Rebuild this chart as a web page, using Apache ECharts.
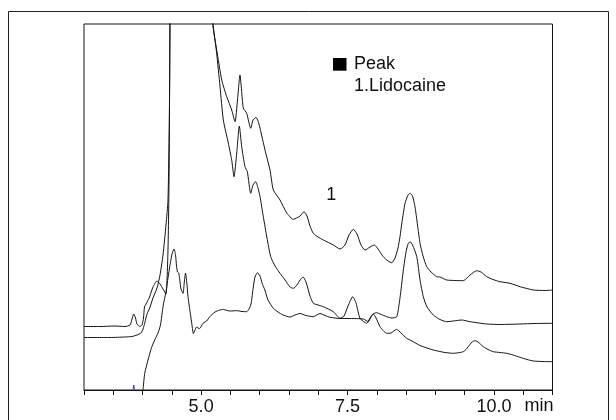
<!DOCTYPE html>
<html>
<head>
<meta charset="utf-8">
<script src="https://cdn.jsdelivr.net/npm/echarts@6/dist/echarts.min.js"></script>
<style>
html,body{margin:0;padding:0;background:#fff;}
#chart{width:616px;height:420px;}
</style>
</head>
<body>
<div id="chart"></div>
<script>
// Retention time (min) and detector signal (arbitrary units) for each trace
var traceATime = [3.000,3.273,3.529,3.700,3.786,3.820,3.849,3.879,3.905,3.956,3.990,4.016,4.033,4.059,4.119,4.178,4.247,4.298,4.349,4.400,4.434,4.452,4.465,4.474,5.170,5.198,5.266,5.352,5.437,5.522,5.579,5.621,5.664,5.690,5.720,5.778,5.847,5.886,5.937,5.971,6.006,6.091,6.176,6.233,6.347,6.462,6.574,6.689,6.757,6.808,6.859,6.916,6.996,7.087,7.257,7.372,7.457,7.525,7.599,7.662,7.730,7.799,7.884,7.958,8.021,8.111,8.191,8.255,8.311,8.362,8.396,8.430,8.482,8.533,8.567,8.610,8.652,8.695,8.738,8.789,8.852,8.926,9.023,9.079,9.194,9.336,9.477,9.540,9.592,9.706,9.780,9.877,9.984,10.104,10.275,10.446,10.673,10.873,11.0];
var traceASignal = [63.5,63.5,64,63.5,65,71,76,72,66,63.5,65,72,83,86,93,103,109,106,101,96,140,210,340,450,460,366.7,340,310,293.3,280,268.3,290,315,300,282,276.7,261.7,270,272.7,269,261.7,240,220,200,190,177,170.7,174,178.3,174,164,156.7,153,150,145,141,145,155,160.7,156,145,140,143,145,141,133.3,129,127.3,132,142,153.3,168,186.7,195,196.7,194,183.3,165,146.7,134,123.3,118,113.3,113,110,109.5,109.3,112,115,119.3,118,113.3,110.5,108.3,106.7,103.3,100,99.5,100];

var traceBTime = [3.000,3.444,3.700,3.820,3.905,3.973,4.008,4.042,4.076,4.122,4.178,4.247,4.298,4.349,4.400,4.434,4.457,4.469,4.474,5.175,5.203,5.263,5.323,5.379,5.464,5.522,5.562,5.608,5.652,5.693,5.749,5.789,5.847,5.886,5.932,5.971,6.006,6.062,6.125,6.188,6.262,6.347,6.433,6.518,6.574,6.637,6.689,6.740,6.791,6.859,6.916,6.996,7.087,7.257,7.372,7.440,7.508,7.589,7.645,7.713,7.828,7.884,7.935,7.998,8.055,8.169,8.260,8.340,8.379,8.413,8.453,8.499,8.533,8.567,8.610,8.682,8.738,8.794,8.857,8.965,9.079,9.194,9.307,9.450,9.592,9.877,10.104,10.446,10.702,11.0];
var traceBSignal = [52.5,52.5,53,53.5,55,57,61,68,76,82,92,102,115,135,165,190,270,367,450,460,367,338,303.3,270,247,230,213.3,237,264,243.3,223.3,218.3,196.7,205,208.3,202,193.3,173.3,152,133.3,124,116.7,110,103,101.7,105,110,113,108,94,86.7,85,83.3,78.3,71.7,74,84,93.3,87,71.7,66.7,72,76,77.3,76,73.3,72,73.3,85,100,120,138,146,148.3,145,133.3,110,93.3,83,75,70.5,68.3,69,70,68.3,66,65.5,66,66.5,66.7];

var traceCTime = [3.973,4.008,4.037,4.093,4.149,4.207,4.264,4.306,4.349,4.405,4.434,4.474,4.503,4.537,4.563,4.580,4.597,4.617,4.636,4.656,4.691,4.713,4.733,4.756,4.776,4.815,4.844,4.867,4.896,4.921,4.947,4.976,5.032,5.095,5.147,5.237,5.317,5.379,5.488,5.608,5.698,5.778,5.818,5.852,5.891,5.920,5.963,6.006,6.040,6.088,6.142,6.233,6.313,6.398,6.518,6.603,6.689,6.791,6.916,7.030,7.116,7.201,7.372,7.572,7.770,7.816,7.855,7.901,7.940,7.987,8.055,8.169,8.243,8.337,8.413,8.511,8.601,8.738,8.965,9.165,9.307,9.421,9.477,9.523,9.563,9.626,9.677,9.728,9.819,9.899,9.990,10.104,10.218,10.326,10.446,10.565,10.673,10.821,11.0];
var traceCSignal = [-30,0,16.7,30,41.7,50,57,65,83.3,100,112,126.7,136,141,135,124,118,117,110,101,96.7,108,117,107,93.3,76.7,65,56.5,60,63,62,61.5,66.7,69,73.3,78,80,80.5,79,79.3,78.5,78.3,81,86,103,113,117.3,114,107,100,90,81.7,78,75,73,75,76.5,74.5,73.3,76.5,74.5,72.7,71.5,71.5,71,69.5,68.3,73,76,72,63.3,56.7,57,60.7,57,51.7,49,44.5,40,37.5,36.7,37.5,38.3,40.5,43.5,48,49.3,48,43.3,40.5,38.3,37.5,36.7,35,32.7,30.5,29,28.5,28.3];

// small blue integration mark near the baseline
var markTime = [3.836,3.849,3.862];
var markSignal = [0.5,5,0.5];

var labelTicks = [5.0, 7.5, 10.0];
var axisUnit = 'min';
var legendTitle = 'Peak';
var legendItems = ['1.Lidocaine'];
var peakLabel = '1';
var peakLabelTime = 7.22;
var peakLabelSignal = 195;

function zip(t, v){ var out=[]; for(var i=0;i<t.length;i++){ out.push([t[i], v[i]]); } return out; }

var FONT = "'Liberation Sans', Arial, Helvetica, sans-serif";
var chart = echarts.init(document.getElementById('chart'), null, {renderer:'canvas'});

function lineSeries(name, t, v, color){
  return {
    name: name, type: 'line', data: zip(t, v), showSymbol: false, symbol: 'none',
    smooth: 0.2, clip: true, silent: true,
    lineStyle: {color: color, width: 1}
  };
}

var series = [
  lineSeries('A', traceATime, traceASignal, '#141414'),
  lineSeries('B', traceBTime, traceBSignal, '#141414'),
  lineSeries('C', traceCTime, traceCSignal, '#141414'),
  lineSeries('mark', markTime, markSignal, '#3a3aa8')
];
series[3].smooth = false;
series[0].markPoint = {
  symbol: 'circle', symbolSize: 0, silent: true,
  data: [{coord: [peakLabelTime, peakLabelSignal], value: peakLabel}],
  label: {show: true, position: 'inside', formatter: peakLabel, color: '#111', fontSize: 18, fontFamily: FONT}
};

chart.setOption({
  animation: false,
  backgroundColor: '#fff',
  grid: {left: 84, right: 63.5, top: 24, bottom: 30, show: true, borderColor: '#141414', borderWidth: 1},
  xAxis: {
    type: 'value', min: 3, max: 11, interval: 0.5,
    axisLine: {show: true, lineStyle: {color: '#141414', width: 1}},
    axisTick: {show: true, inside: false, length: 5, lineStyle: {color: '#141414', width: 1}},
    axisLabel: {
      show: true, margin: 8, fontSize: 18, color: '#111', fontFamily: FONT,
      formatter: function(v){
        for (var i=0;i<labelTicks.length;i++){ if (Math.abs(v-labelTicks[i])<1e-6) return v.toFixed(1); }
        return '';
      }
    },
    splitLine: {show: false}
  },
  yAxis: {
    type: 'value', min: 0, max: 366,
    axisLine: {show: false}, axisTick: {show: false}, axisLabel: {show: false}, splitLine: {show: false}
  },
  graphic: [
    {type: 'rect', silent: true, shape: {x: 8.5, y: 11.5, width: 600, height: 430}, style: {fill: 'none', stroke: '#222', lineWidth: 1}},
    {type: 'rect', silent: true, shape: {x: 333, y: 58, width: 13.5, height: 12.7}, style: {fill: '#000'}},
    {type: 'text', silent: true, style: {text: legendTitle, x: 354, y: 64.5, textAlign: 'left', textVerticalAlign: 'middle', fill: '#111', font: '18px ' + FONT}},
    {type: 'text', silent: true, style: {text: legendItems[0], x: 354, y: 86.3, textAlign: 'left', textVerticalAlign: 'middle', fill: '#111', font: '18px ' + FONT}},
    {type: 'text', silent: true, style: {text: axisUnit, x: 553.5, y: 406.5, textAlign: 'right', textVerticalAlign: 'middle', fill: '#111', font: '18px ' + FONT}}
  ],
  series: series
});
</script>
</body>
</html>
